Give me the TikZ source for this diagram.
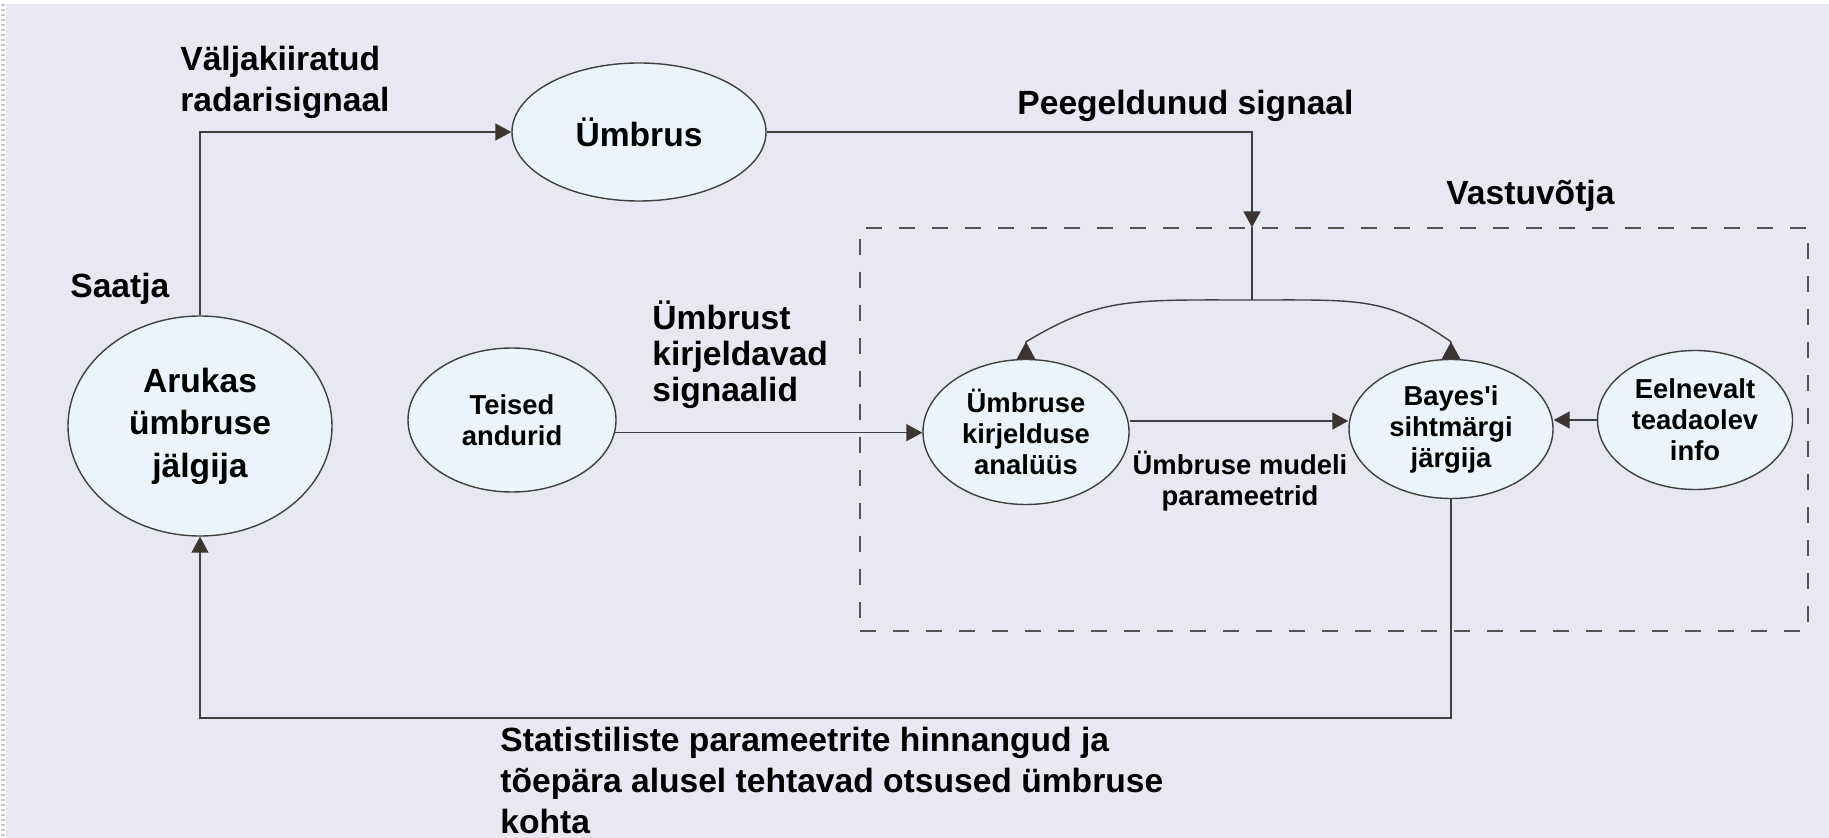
\documentclass[tikz,border=0pt]{standalone}
\usepackage{fontspec}
\setmainfont{Liberation Sans}[Ligatures=TeXOff]
\usetikzlibrary{arrows.meta,shapes.geometric}
\definecolor{bg}{HTML}{E8E8F2}
\definecolor{ellfill}{HTML}{EBF4FC}
\definecolor{linec}{HTML}{404040}
\definecolor{tipc}{HTML}{3A3530}
\newcommand{\fbig}{\bfseries\fontsize{16.8}{20.5}\selectfont}
\newcommand{\fsmall}{\bfseries\fontsize{13.7}{15.5}\selectfont}
\begin{document}
\begin{tikzpicture}[x=0.5pt,y=-0.5pt,
  ell/.style={ellipse, draw=linec, line width=0.7pt, fill=ellfill, inner sep=0pt, align=center, font=\fsmall},
  conn/.style={draw=linec, line width=0.7pt},
  arr/.style={conn, -{Triangle[length=8pt,width=8.5pt,color=tipc]}},
  rarr/.style={conn, -{Triangle[reversed,length=8.5pt,width=9pt,color=tipc]}},
  lbl/.style={font=\fbig, inner sep=0pt, align=left, anchor=base west},
  recvbox/.style={draw=linec!90, line width=0.6pt, dash pattern=on 8pt off 8.5pt, inner sep=0pt}
]
\useasboundingbox (0,0) rectangle (1829,838);
\fill[bg] (0,0) rectangle (1829,838);
\fill[white] (0,0) rectangle (1829,4);
\fill[white] (0,0) rectangle (6,838);
\draw[gray!45, line width=2pt, dash pattern=on 1pt off 1.5pt] (3,4) -- (3,838);

% receiver box
\node[recvbox, minimum width=474pt, minimum height=201.5pt] (recv) at (1334,429.5) {};

% nodes
\node[ell, font=\fbig, minimum width=127pt, minimum height=69pt] (umbrus) at (639,132) {Ümbrus};
\node[ell, font=\bfseries\fontsize{16.8}{21.3}\selectfont, minimum width=132pt, minimum height=110pt] (arukas) at (200,426) {Arukas\\ümbruse\\jälgija};
\node[ell, minimum width=104pt, minimum height=72pt] (teised) at (512,420) {Teised\\andurid};
\node[ell, minimum width=103pt, minimum height=72.5pt] (kirj) at (1026,432) {Ümbruse\\kirjelduse\\analüüs};
\node[ell, minimum width=102pt, minimum height=69.5pt] (bayes) at (1451,429) {Bayes'i\\sihtmärgi\\järgija};
\node[ell, minimum width=97.5pt, minimum height=69.5pt] (eel) at (1695,420) {Eelnevalt\\teadaolev\\info};

% connectors
\coordinate (split) at (1252,300);
\coordinate (fb) at (1451,718);
\draw[arr] (arukas.north) |- (umbrus.west);
\draw[arr] (umbrus.east) -| (split |- recv.north);
\draw[conn] (split |- recv.north) -- (split);
\draw[rarr] (split) .. controls +(-120,0) and +(75,-45) .. ([yshift=8.5pt]kirj.north) -- (kirj.north);
\draw[rarr] (split) .. controls +(110,0) and +(-65,-45) .. ([yshift=8.5pt]bayes.north) -- (bayes.north);
\draw[arr] (teised.-7) -- (teised.-7 -| kirj.west);
\coordinate (kb) at ([yshift=5.5pt]kirj.east);
\draw[arr] (kb) -- (kb -| bayes.west);
\draw[arr] (eel.west) -- (eel.west -| bayes.east);
\draw[arr] (bayes.south) -- (bayes.south |- fb) -| (arukas.south);

% labels (anchor = baseline of the last line)
\node[lbl] (valja) at (180,112) {Väljakiiratud\\radarisignaal};
\node[lbl] (saatja) at (70,298) {Saatja};
\node[lbl] (peeg) at (1017,115) {Peegeldunud signaal};
\node[lbl] (vastu) at (1446,205) {Vastuvõtja};
\node[lbl, font=\bfseries\fontsize{16.8}{18}\selectfont] (umbrust) at (652,402) {Ümbrust\\kirjeldavad\\signaalid};
\node[lbl] (stat) at (500,833) {Statistiliste parameetrite hinnangud ja\\tõepära alusel tehtavad otsused ümbruse\\kohta};
\node[inner sep=0pt, align=center, anchor=base, font=\fsmall] (ump) at (1240,506) {Ümbruse mudeli\\parameetrid};
\end{tikzpicture}
\end{document}
